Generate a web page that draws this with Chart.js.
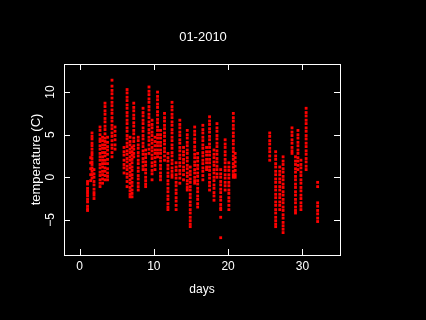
<!DOCTYPE html>
<html>
<head>
<meta charset="utf-8">
<script src="https://cdn.jsdelivr.net/npm/chart.js@4/dist/chart.umd.min.js"></script>
<style>
html,body{margin:0;padding:0;background:#000;}
#wrap{width:426px;height:320px;}
</style>
</head>
<body>
<div id="wrap"><canvas id="c" width="426" height="320"></canvas></div>
<script>
// ---- data ----
const chartTitle = "01-2010";
const xTitle = "days";
const yTitle = "temperature (C)";
const xTicks = [0, 10, 20, 30];
const yTicks = [-5, 0, 5, 10];
const xRange = [-2.09, 35.06];
const yRange = [-9.13, 13.3];

// day position of each vertical strip of readings
const stripDays = [1.08, 1.5, 1.68, 1.95, 2.76, 3.1, 3.43, 3.77, 4.37, 4.78,
  5.99, 6.4, 6.8, 7.07, 7.3, 7.9, 8.55, 8.9, 9.35, 9.76,
  10.16, 10.5, 10.9, 11.44, 11.9, 12.45, 13.0, 13.5, 14.0, 14.5,
  14.9, 15.5, 15.9, 16.6, 17.1, 17.5, 18.1, 18.5, 19.0, 19.6,
  20.1, 20.7, 20.95, 25.6, 26.4, 26.95, 27.4, 28.6, 29.07, 29.4,
  29.8, 30.5, 32.05];

// temperatures (C) read in each strip
const stripTemps = [
  [-0.5,-0.8,-1.3,-1.6,-1.9,-2.2,-2.6,-2.9,-3.4,-3.7,-3.9],
  [2.3,1.7,1.0,0.3,-0.4],
  [5.2,4.8,4.5,4.0,3.7,3.3,2.9,2.6,2.2,1.8,1.5,1.1,0.7,0.3,-0.1],
  [0.9,0.4,0.0,-0.5,-0.9,-1.4,-1.8,-2.1,-2.5],
  [5.9,5.5,5.0,4.5,4.2,3.7,3.3,2.8,2.4,2.0,1.5,1.1,0.6,0.2,-0.3,-0.7,-1.1],
  [4.7,4.3,3.8,3.4,2.9,2.4,2.0,1.6,1.2,0.7,0.3,-0.2,-0.7],
  [8.7,8.3,7.8,7.4,6.9,6.5,6.0,5.6,5.1,4.6,4.2,3.8,3.4,2.9,2.5,2.0,1.6,1.1,0.7,0.2,-0.3],
  [4.7,4.1,3.6,3.2,2.7,2.1,1.6,1.0,0.5,0.1,-0.3],
  [11.4,10.7,10.2,9.8,9.3,8.8,8.4,7.9,7.5,7.0,6.6,6.1,5.7,5.2,4.8,4.3,3.8,3.4,2.9,2.4],
  [5.9,5.4,4.9,4.4,3.8,3.3],
  [3.5,3.0,2.6,2.0,1.5,1.1,0.5],
  [10.3,9.9,9.4,9.0,8.5,8.1,7.6,7.2,6.7,6.3,5.8,5.4,4.9,4.5,4.0,3.6,3.1,2.7,2.2,1.8,1.3,0.9,0.4,0.0,-0.5,-1.1],
  [4.7,4.2,3.8,3.3,2.9,2.4,2.0,1.5,1.1,0.6,0.2,-0.3,-0.7,-1.2,-1.6,-2.0,-2.3],
  [3.5,3.0,2.6,2.1,1.7,1.2,0.8,0.3,-0.1,-0.6,-1.0,-1.5,-1.9,-2.3],
  [8.7,8.2,7.8,7.3,6.9,6.4,6.0,5.5,5.1,4.6,4.2,3.7,3.3,2.8,2.4],
  [4.7,4.3,3.8,3.4,2.9,2.5,2.0,1.6,1.1,0.7,0.2,-0.2,-0.7,-1.1,-1.5],
  [8.1,7.6,7.2,6.7,6.3,5.8,5.4,4.9,4.5,4.0,3.6,3.1,2.7,2.2,1.8,1.3,0.9],
  [3.2,2.7,2.3,1.8,1.4,0.9,0.5,0.0,-0.4,-0.8,-1.1],
  [10.6,10.1,9.7,9.2,8.8,8.3,7.9,7.4,7.0,6.5,6.1,5.6,5.2,4.7,4.3,3.8,3.3,2.8],
  [6.7,6.2,5.8,5.3,4.9,4.4,4.0,3.5,3.1,2.6,2.2,1.7,1.3,0.8,0.4,-0.3],
  [4.7,4.2,3.7,3.2,2.8,2.3,1.8,1.4,0.9],
  [10.0,9.5,9.1,8.6,8.2,7.7,7.3,6.8,6.4,5.9,5.5,5.0,4.6,4.1,3.7,3.2,2.8,2.4],
  [5.5,5.0,4.6,4.1,3.7,3.2,2.8,2.3,1.9,1.4,1.0,0.5,0.1,-0.3],
  [7.5,7.0,6.6,6.1,5.7,5.2,4.8,4.3,3.9,3.4,3.0,2.5,2.0],
  [2.8,2.3,1.9,1.4,1.0,0.5,0.1,-0.4,-0.8,-1.3,-1.7,-2.2,-2.6,-3.1,-3.5,-3.8],
  [8.8,8.3,7.9,7.4,7.0,6.5,6.1,5.6,5.2,4.7,4.3,3.8,3.4,2.9,2.5,2.0,1.6,1.1,0.7,0.3,0.0],
  [1.7,1.2,0.8,0.3,-0.1,-0.6,-1.0,-1.5,-1.9,-2.4,-2.8,-3.3,-3.8],
  [6.7,6.2,5.8,5.3,4.9,4.4,4.0,3.5,3.1,2.6,2.2,1.7,1.3,0.8,0.4,-0.1,-0.7],
  [3.5,3.0,2.6,2.1,1.7,1.2,0.8,0.3,-0.3],
  [5.5,5.0,4.6,4.1,3.7,3.2,2.8,2.3,1.9,1.4,1.0,0.5,0.1,-0.4,-0.8,-1.2,-1.5],
  [1.2,0.7,0.3,-0.2,-0.6,-1.1,-1.5,-2.0,-2.4,-2.9,-3.3,-3.8,-4.2,-4.7,-5.1,-5.5,-5.8],
  [5.9,5.4,5.0,4.5,4.1,3.6,3.2,2.7,2.3,1.8,1.4,0.9,0.5,0.0,-0.4,-0.7],
  [2.8,2.3,1.9,1.4,1.0,0.5,0.1,-0.4,-0.8,-1.3,-1.7,-2.2,-2.6,-3.1,-3.5],
  [6.1,5.6,5.2,4.7,4.3,3.8,3.4,2.9,2.5,2.0,1.6,1.1,0.7,0.2,-0.3],
  [3.5,3.0,2.6,2.1,1.7,1.2,0.9],
  [7.1,6.6,6.2,5.7,5.3,4.8,4.4,3.9,3.5,3.0,2.6,2.1,1.7,1.2,0.8,0.3,-0.1,-0.6,-1.0,-1.5],
  [3.2,2.7,2.3,1.8,1.4,0.9,0.5,0.0,-0.4,-0.9,-1.3,-1.8,-2.2,-2.7],
  [6.3,5.8,5.4,4.9,4.5,4.0,3.6,3.1,2.7,2.2,1.8,1.3,0.9,0.4,0.0],
  [0.9,0.4,0.0,-0.5,-0.9,-1.4,-1.8,-2.3,-2.7,-3.2,-3.6,-3.8,-4.7,-7.1],
  [4.4,3.9,3.5,3.0,2.6,2.1,1.7,1.2,0.8,0.3,-0.1,-0.6,-1.0,-1.5],
  [1.7,1.2,0.8,0.3,-0.1,-0.6,-1.0,-1.5,-1.9,-2.4,-2.8,-3.3,-3.8],
  [7.5,7.0,6.6,6.1,5.7,5.2,4.8,4.3,3.9,3.4,3.0,2.5,2.1,1.6,1.2,0.7,0.3,0.0],
  [2.8,2.3,1.8,1.3,0.8,0.3,0.0],
  [5.2,4.8,4.3,3.9,3.4,3.0,2.5,2.0],
  [3.0,2.5,2.1,1.6,1.2,0.7,0.3,-0.2,-0.6,-1.1,-1.5,-2.0,-2.4,-2.9,-3.3,-3.8,-4.2,-4.7,-5.1,-5.5,-5.8],
  [1.2,0.7,0.3,-0.2,-0.6,-1.1,-1.5,-2.0,-2.4,-2.9,-3.3,-3.8],
  [2.4,1.9,1.5,1.0,0.6,0.1,-0.3,-0.8,-1.2,-1.7,-2.1,-2.6,-3.0,-3.5,-3.9,-4.4,-4.8,-5.3,-5.7,-6.1,-6.5],
  [5.8,5.3,4.9,4.4,4.0,3.5,3.1,2.8],
  [2.4,1.9,1.5,1.0,0.6,0.1,-0.3,-0.8,-1.2,-1.7,-2.1,-2.6,-3.0,-3.5,-3.9,-4.2],
  [5.5,5.0,4.6,4.1,3.7,3.2,2.8,2.3,1.9,1.4,0.9],
  [2.0,1.5,1.1,0.6,0.2,-0.3,-0.7,-1.2,-1.6,-2.1,-2.5,-3.0,-3.4,-3.8],
  [8.1,7.6,7.2,6.7,6.3,5.8,5.4,4.9,4.5,4.0,3.6,3.1,2.7,2.2,1.8,1.3,0.9],
  [-0.6,-1.1,-3.0,-3.4,-3.9,-4.3,-4.8,-5.2]
];

// build scatter points from the arrays above
const points = [];
stripDays.forEach((d, i) => stripTemps[i].forEach(t => points.push({x: d, y: t})));

const FONT = '12px "Liberation Sans", Arial, sans-serif';
const BIGFONT = '13px "Liberation Sans", Arial, sans-serif';

const framePlugin = {
  id: 'frame',
  beforeDraw(chart) {
    const ctx = chart.ctx;
    ctx.save();
    ctx.fillStyle = '#000';
    ctx.fillRect(0, 0, chart.width, chart.height);
    ctx.restore();
  },
  afterDraw(chart) {
    const ctx = chart.ctx;
    const a = chart.chartArea;
    const xs = chart.scales.x, ys = chart.scales.y;
    const tl = 6;
    ctx.save();
    ctx.strokeStyle = '#fff';
    ctx.lineWidth = 1;
    ctx.strokeRect(Math.round(a.left) + 0.5, Math.round(a.top) + 0.5,
                   Math.round(a.right - a.left), Math.round(a.bottom - a.top));
    ctx.beginPath();
    xTicks.forEach(v => {
      const p = Math.round(xs.getPixelForValue(v)) + 0.5;
      ctx.moveTo(p, a.bottom); ctx.lineTo(p, a.bottom - tl);
      ctx.moveTo(p, a.top); ctx.lineTo(p, a.top + tl);
    });
    yTicks.forEach(v => {
      const p = Math.round(ys.getPixelForValue(v)) + 0.5;
      ctx.moveTo(a.left, p); ctx.lineTo(a.left + tl, p);
      ctx.moveTo(a.right, p); ctx.lineTo(a.right - tl, p);
    });
    ctx.stroke();

    ctx.fillStyle = '#fff';
    ctx.font = FONT;
    ctx.textAlign = 'center';
    ctx.textBaseline = 'middle';
    const fmt = v => (v < 0 ? '\u2212' + Math.abs(v) : String(v));
    xTicks.forEach(v => ctx.fillText(fmt(v), xs.getPixelForValue(v), 267));
    yTicks.forEach(v => {
      ctx.save();
      ctx.translate(51, ys.getPixelForValue(v));
      ctx.rotate(-Math.PI / 2);
      ctx.fillText(fmt(v), 0, 0);
      ctx.restore();
    });
    const cx = (a.left + a.right) / 2;
    const cy = (a.top + a.bottom) / 2;
    ctx.fillText(xTitle, cx, 290);
    ctx.font = BIGFONT;
    ctx.fillText(chartTitle, cx + 1, 37);
    ctx.save();
    ctx.translate(36, cy);
    ctx.rotate(-Math.PI / 2);
    ctx.fillText(yTitle, 0, 0);
    ctx.restore();
    ctx.restore();
  }
};

new Chart(document.getElementById('c'), {
  type: 'scatter',
  data: {
    datasets: [{
      data: points,
      backgroundColor: '#ff0000',
      borderWidth: 0,
      pointStyle: 'rect',
      pointRadius: 2,
      pointHoverRadius: 2
    }]
  },
  options: {
    responsive: false,
    animation: false,
    events: [],
    layout: { padding: { left: 64, top: 64, right: 86, bottom: 65 } },
    plugins: { legend: { display: false }, title: { display: false }, tooltip: { enabled: false } },
    scales: {
      x: { type: 'linear', display: false, min: xRange[0], max: xRange[1] },
      y: { type: 'linear', display: false, min: yRange[0], max: yRange[1] }
    }
  },
  plugins: [framePlugin]
});
</script>
</body>
</html>
